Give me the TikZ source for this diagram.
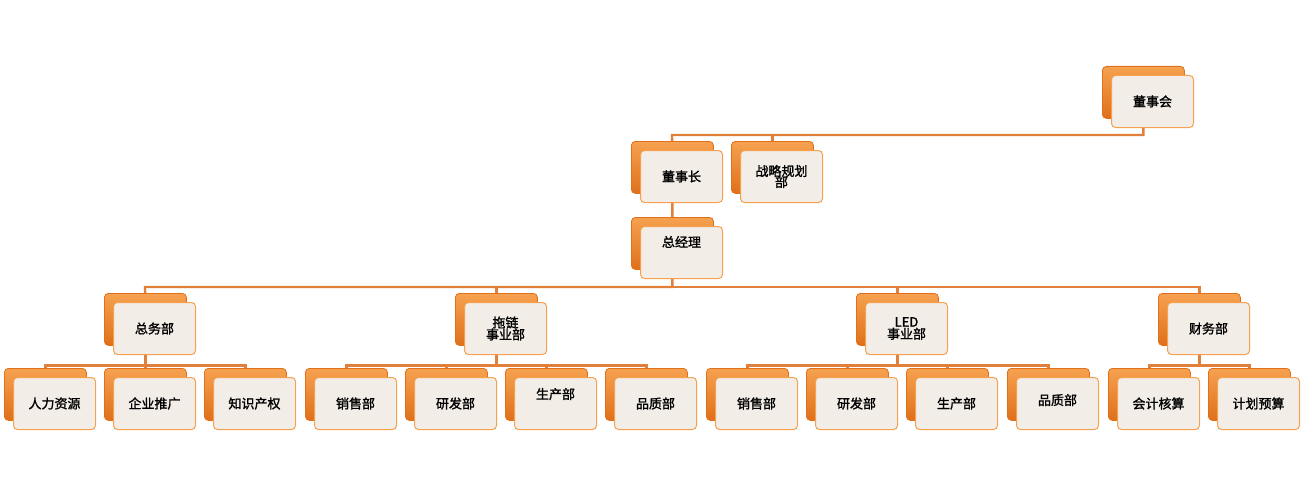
\documentclass[tikz,border=0pt]{standalone}
\usepackage{fontspec}
\newfontfamily\cjk{Noto Sans CJK SC}[AutoFakeBold=1.5]
\usetikzlibrary{backgrounds,calc}
\definecolor{oran}{HTML}{F38A24}
\definecolor{orandk}{HTML}{E0701A}
\definecolor{linec}{HTML}{E0803A}
\definecolor{frontc}{HTML}{F3EDE8}
\tikzset{
 backbox/.style={draw=orandk,line width=0.8pt,rounded corners=4pt,top color=oran!80!white,bottom color=orandk,minimum width=82pt,minimum height=52pt,inner sep=0pt,anchor=north west},
 frontbox/.style={draw=oran!80,line width=1pt,rounded corners=4pt,fill=frontc,minimum width=82pt,minimum height=52pt,inner sep=0pt,anchor=north west,align=center,font=\cjk\bfseries\fontsize{13}{14}\selectfont,text=black},
 conn/.style={draw=linec,line width=2.4pt}
}
\newcommand{\orgunit}[4]{%
 \node[backbox] (#1) at (#2,#3) {};
 \node[frontbox] (f#1) at (#2+9,#3+9) {#4};
}
\begin{document}
\begin{tikzpicture}[x=1pt,y=-1pt]
\useasboundingbox (0,0) rectangle (1304,495);
\orgunit{dsh}{1102}{66}{董事会}
\orgunit{dsz}{631}{141}{董事长}
\orgunit{zl}{731}{141}{战略规划\\[-3pt]部}
\orgunit{zjl}{631}{217}{总经理\\[8pt]}
\orgunit{zw}{104}{293}{总务部}
\orgunit{tl}{455}{293}{拖链\\[-2pt]事业部}
\orgunit{led}{856}{293}{LED\\[-2pt]事业部}
\orgunit{cw}{1158}{293}{财务部}
\orgunit{a1}{4}{368}{人力资源}
\orgunit{a2}{104}{368}{企业推广}
\orgunit{a3}{204}{368}{知识产权}
\orgunit{b1}{305}{368}{销售部}
\orgunit{b2}{405}{368}{研发部}
\orgunit{b3}{505}{368}{生产部\\[6pt]}
\orgunit{b4}{605}{368}{品质部}
\orgunit{c1}{706}{368}{销售部}
\orgunit{c2}{806}{368}{研发部}
\orgunit{c3}{906}{368}{生产部}
\orgunit{c4}{1007}{368}{品质部\\[-6pt]}
\orgunit{d1}{1108}{368}{会计核算}
\orgunit{d2}{1208}{368}{计划预算}
\begin{pgfonlayer}{background}
\draw[conn] (dsh.center) |- (672,135) coordinate (j1) -- (dsz.center);
\draw[conn] (zl.center) |- (j1);
\draw[conn] (dsz.center) -- (zjl.center) |- (145,287) coordinate (j2) -- (zw.center);
\draw[conn] (zjl.center |- j2) -| (tl.center);
\draw[conn] (zjl.center |- j2) -| (led.center);
\draw[conn] (zjl.center |- j2) -| (cw.center);
\foreach \p/\k in {zw/a1,zw/a2,zw/a3,tl/b1,tl/b2,tl/b3,tl/b4,led/c1,led/c2,led/c3,led/c4,cw/d1,cw/d2}
  \draw[conn] (\p.center) |- ($(\p.center)+(0,46)$) -| (\k.center);
\end{pgfonlayer}
\end{tikzpicture}
\end{document}
